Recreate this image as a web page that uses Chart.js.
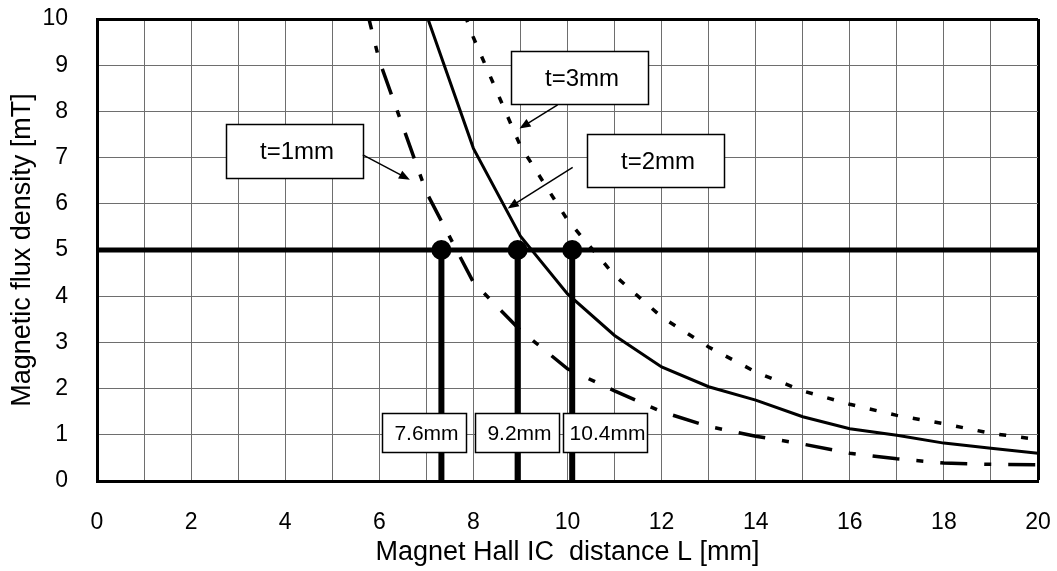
<!DOCTYPE html>
<html lang="en">
<head>
<meta charset="UTF-8">
<title>Magnetic flux density vs. distance</title>
<script src="https://cdn.jsdelivr.net/npm/chart.js"></script>
<style>
  html, body { margin: 0; padding: 0; background: #fff; }
  #wrap { width: 1057px; height: 571px; }
</style>
</head>
<body>
<div id="wrap"><canvas id="fluxChart"></canvas></div>
<script>
// distance L [mm] and flux density [mT] for each magnet thickness
const t1Distance = [5, 6, 7, 8, 9, 10, 11, 12, 13, 14, 15, 16, 17, 18, 19, 20];
const t1Flux = [13.2, 9.1, 6.25, 4.3, 3.26, 2.43, 1.95, 1.5, 1.18, 0.97, 0.8, 0.6, 0.48, 0.39, 0.36, 0.35];

const t2Distance = [7, 8, 9, 10, 11, 12, 13, 14, 15, 16, 17, 18, 19, 20];
const t2Flux = [10.1, 7.2, 5.3, 4.05, 3.15, 2.47, 2.04, 1.75, 1.39, 1.13, 0.99, 0.82, 0.71, 0.6];

const t3Distance = [7, 8, 9, 10, 11, 12, 13, 14, 15, 16, 17, 18, 19, 20];
const t3Flux = [12.3, 9.6, 7.25, 5.65, 4.45, 3.55, 2.9, 2.36, 1.95, 1.66, 1.42, 1.24, 1.03, 0.9];

const thresholdFlux = 5;
const markerDistance = [7.32, 8.94, 10.1];
const markerLabels = ['7.6mm', '9.2mm', '10.4mm'];
const curveLabels = ['t=1mm', 't=2mm', 't=3mm'];

const xTickLabels = [0, 2, 4, 6, 8, 10, 12, 14, 16, 18, 20];
const yTickLabels = [0, 1, 2, 3, 4, 5, 6, 7, 8, 9, 10];

const FONT = "'Liberation Sans', Arial, sans-serif";

function toPoints(xs, ys) {
    return xs.map((x, i) => ({ x: x, y: ys[i] }));
}

// callout boxes, in data units of the chart
const callouts = [
    { text: curveLabels[0], x0: 2.75, x1: 5.65, y0: 7.72, y1: 6.55, from: [5.65, 7.06], to: [6.65, 6.52] },
    { text: curveLabels[1], x0: 10.42, x1: 13.32, y0: 7.51, y1: 6.37, from: [10.11, 6.79], to: [8.73, 5.9] },
    { text: curveLabels[2], x0: 8.8, x1: 11.72, y0: 9.31, y1: 8.15, from: [9.79, 8.14], to: [8.98, 7.63] }
];
const readoutBoxes = [
    { text: markerLabels[0], x0: 6.06, x1: 7.85 },
    { text: markerLabels[1], x0: 8.03, x1: 9.82 },
    { text: markerLabels[2], x0: 9.9, x1: 11.69 }
];

const boxPlugin = {
    id: 'boxes',
    afterDatasetsDraw(chart) {
        const ctx = chart.ctx;
        const xs = chart.scales.x;
        const ys = chart.scales.y;
        const px = v => xs.getPixelForValue(v);
        const py = v => ys.getPixelForValue(v);

        function drawBox(x0, x1, y0, y1, text, size) {
            const l = Math.round(px(x0)) + 0.5, r = Math.round(px(x1)) + 0.5;
            const t = Math.round(py(y0)) + 0.5, b = Math.round(py(y1)) + 0.5;
            ctx.fillStyle = '#fff';
            ctx.fillRect(l, t, r - l, b - t);
            ctx.strokeStyle = '#000';
            ctx.lineWidth = 1.5;
            ctx.strokeRect(l, t, r - l, b - t);
            ctx.fillStyle = '#000';
            ctx.font = size + 'px ' + FONT;
            ctx.textAlign = 'center';
            ctx.textBaseline = 'middle';
            ctx.fillText(text, (l + r) / 2 + 2, (t + b) / 2 + 1);
        }

        ctx.save();
        callouts.forEach(c => {
            drawBox(c.x0, c.x1, c.y0, c.y1, c.text, 24);
            const ax = px(c.from[0]), ay = py(c.from[1]);
            const bx = px(c.to[0]), by = py(c.to[1]);
            const ang = Math.atan2(by - ay, bx - ax);
            const head = 11;
            ctx.strokeStyle = '#000';
            ctx.lineWidth = 1.5;
            ctx.beginPath();
            ctx.moveTo(ax, ay);
            ctx.lineTo(bx - Math.cos(ang) * head * 0.8, by - Math.sin(ang) * head * 0.8);
            ctx.stroke();
            ctx.fillStyle = '#000';
            ctx.beginPath();
            ctx.moveTo(bx, by);
            ctx.lineTo(bx - head * Math.cos(ang) + 4.5 * Math.sin(ang), by - head * Math.sin(ang) - 4.5 * Math.cos(ang));
            ctx.lineTo(bx - head * Math.cos(ang) - 4.5 * Math.sin(ang), by - head * Math.sin(ang) + 4.5 * Math.cos(ang));
            ctx.closePath();
            ctx.fill();
        });
        readoutBoxes.forEach(b => drawBox(b.x0, b.x1, 1.47, 0.63, b.text, 21));
        ctx.restore();
    }
};

const markerSets = markerDistance.map(d => ({
    label: 'marker ' + d,
    data: [{ x: d, y: thresholdFlux }, { x: d, y: 0 }],
    borderColor: '#000',
    backgroundColor: '#000',
    borderWidth: 6,
    borderCapStyle: 'square',
    pointRadius: [10, 0],
    pointHoverRadius: [10, 0],
    pointBorderWidth: 0
}));

// the tick padding must not push the plot area inwards
function noScalePadding(s) {
    s.paddingTop = 0;
    s.paddingBottom = 0;
    s.paddingLeft = 0;
    s.paddingRight = 0;
}

new Chart(document.getElementById('fluxChart'), {
    type: 'line',
    data: {
        datasets: [
            {
                label: curveLabels[1],
                data: toPoints(t2Distance, t2Flux),
                borderColor: '#000',
                borderWidth: 3,
                pointRadius: 0,
                tension: 0
            },
            {
                label: curveLabels[2],
                data: toPoints(t3Distance, t3Flux),
                borderColor: '#000',
                borderWidth: 3.5,
                borderDash: [7, 15],
                pointRadius: 0,
                tension: 0
            },
            {
                label: curveLabels[0],
                data: toPoints(t1Distance, t1Flux),
                borderColor: '#000',
                borderWidth: 3.5,
                borderDash: [27, 17, 7, 17],
                pointRadius: 0,
                tension: 0
            },
            ...markerSets,
            {
                label: 'threshold',
                data: [{ x: 0, y: thresholdFlux }, { x: 20, y: thresholdFlux }],
                borderColor: '#000',
                borderWidth: 5,
                pointRadius: 0
            }
        ]
    },
    options: {
        responsive: true,
        maintainAspectRatio: false,
        animation: false,
        layout: { padding: { top: 19, right: 19, left: 0, bottom: 0 } },
        plugins: {
            legend: { display: false },
            tooltip: { enabled: false }
        },
        scales: {
            x: {
                type: 'linear',
                min: 0,
                max: 20,
                afterFit: s => { s.height = 90; noScalePadding(s); },
                ticks: {
                    stepSize: 1,
                    autoSkip: false,
                    maxRotation: 0,
                    padding: 28,
                    color: '#000',
                    font: { family: FONT, size: 23 },
                    callback: v => xTickLabels.includes(v) ? String(v) : ''
                },
                grid: {
                    drawTicks: false,
                    color: c => c.tick && c.tick.value === 20 ? '#000' : '#6e6e6e',
                    lineWidth: c => c.tick && c.tick.value === 20 ? 3 : 1
                },
                border: { color: '#000', width: 3 },
                title: {
                    display: true,
                    text: 'Magnet Hall IC  distance L [mm]',
                    color: '#000',
                    font: { family: FONT, size: 27 },
                    padding: { top: 0, bottom: 2 }
                }
            },
            y: {
                min: 0,
                max: 10,
                afterFit: s => { s.width = 97; noScalePadding(s); },
                ticks: {
                    stepSize: 1,
                    padding: 29,
                    color: '#000',
                    font: { family: FONT, size: 23 },
                    callback: v => yTickLabels.includes(v) ? String(v) : ''
                },
                grid: {
                    drawTicks: false,
                    color: c => c.tick && c.tick.value === 10 ? '#000' : '#6e6e6e',
                    lineWidth: c => c.tick && c.tick.value === 10 ? 3 : 1
                },
                border: { color: '#000', width: 3 },
                title: {
                    display: true,
                    text: 'Magnetic flux density [mT]',
                    color: '#000',
                    font: { family: FONT, size: 27 },
                    padding: { top: 6, bottom: 0 }
                }
            }
        }
    },
    plugins: [boxPlugin]
});
</script>
</body>
</html>
